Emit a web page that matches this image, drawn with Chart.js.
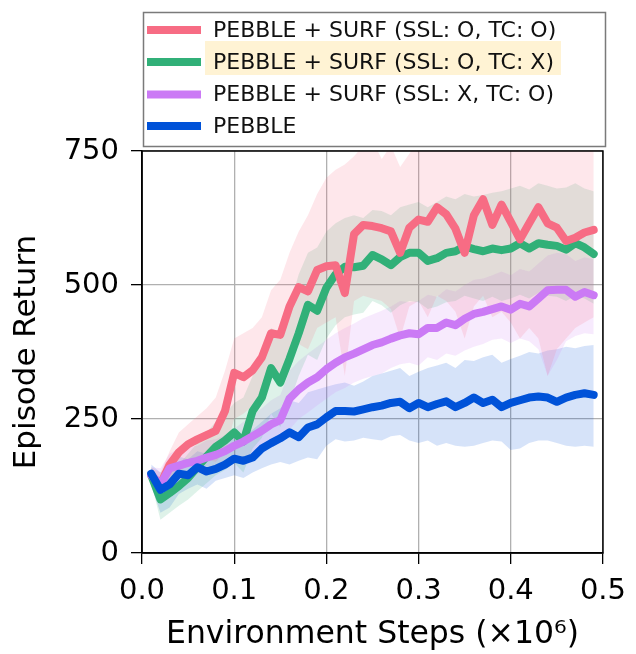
<!DOCTYPE html>
<html>
<head>
<meta charset="utf-8">
<script src="https://cdn.jsdelivr.net/npm/chart.js@4"></script>
<style>
  html, body { margin: 0; padding: 0; background: #fff; }
</style>
</head>
<body>
<canvas id="return-canvas" width="636" height="654"></canvas>
<script>
// environment steps (x10^6)
const steps = [
  0.01, 0.02, 0.03, 0.04, 0.05, 0.06, 0.07, 0.08, 0.09, 0.10,
  0.11, 0.12, 0.13, 0.14, 0.15, 0.16, 0.17, 0.18, 0.19, 0.20,
  0.21, 0.22, 0.23, 0.24, 0.25, 0.26, 0.27, 0.28, 0.29, 0.30,
  0.31, 0.32, 0.33, 0.34, 0.35, 0.36, 0.37, 0.38, 0.39, 0.40,
  0.41, 0.42, 0.43, 0.44, 0.45, 0.46, 0.47, 0.48, 0.49,
]

const legendLabels = [
  'PEBBLE + SURF (SSL: O, TC: O)',
  'PEBBLE + SURF (SSL: O, TC: X)',
  'PEBBLE + SURF (SSL: X, TC: O)',
  'PEBBLE',
]

// SSL: O, TC: O
const fullMean = [
  145, 128, 165, 188, 203, 212, 220, 228, 265, 336,
  328, 341, 365, 410, 407, 460, 496, 488, 528, 535,
  537, 485, 595, 612, 610, 606, 600, 560, 607, 622,
  618, 645, 632, 605, 560, 630, 660, 612, 650, 618,
  585, 615, 645, 615, 607, 582, 588, 598, 603,
]
const fullLow = [
  130, 105, 135, 150, 165, 170, 175, 170, 190, 250,
  260, 275, 290, 330, 320, 360, 390, 380, 420, 430,
  440, 330, 470, 480, 475, 470, 455, 400, 460, 470,
  440, 480, 470, 450, 400, 460, 480, 440, 450, 430,
  400, 420, 400, 330, 380, 400, 420, 430, 440,
]
const fullHigh = [
  160, 150, 190, 225, 240, 255, 270, 290, 340, 400,
  410, 420, 440, 490, 510, 560, 600, 630, 670, 700,
  715, 725, 740, 760, 770, 735, 760, 720, 745, 770,
  780, 790, 780, 770, 775, 785, 790, 780, 790, 785,
  780, 790, 800, 790, 785, 780, 790, 785, 780,
]

// SSL: O, TC: X
const noTcMean = [
  145, 100, 112, 125, 140, 160, 180, 198, 210, 225,
  208, 265, 290, 345, 318, 362, 410, 463, 452, 495,
  520, 534, 533, 536, 556, 548, 537, 552, 560, 560,
  545, 550, 560, 563, 572, 567, 563, 568, 565, 568,
  578, 568, 578, 575, 573, 566, 578, 570, 558,
]
const noTcLow = [
  130, 62, 75, 88, 100, 115, 130, 145, 155, 168,
  150, 195, 215, 260, 235, 280, 330, 370, 360, 400,
  425, 440, 445, 448, 470, 462, 448, 462, 470, 468,
  455, 460, 468, 470, 480, 475, 470, 478, 470, 475,
  482, 475, 485, 480, 478, 470, 480, 475, 465,
]
const noTcHigh = [
  160, 135, 150, 165, 185, 205, 225, 245, 260, 280,
  290, 330, 370, 420, 410, 460, 520, 560, 570, 600,
  615, 625, 630, 625, 640, 638, 630, 645, 650, 655,
  645, 655, 665, 660, 670, 665, 668, 672, 675, 680,
  685, 678, 690, 685, 680, 682, 690, 680, 675,
]

// SSL: X, TC: O
const noSslMean = [
  145, 128, 158, 163, 168, 172, 178, 183, 190, 200,
  208, 218, 228, 240, 248, 288, 305, 318, 328, 343,
  355, 365, 372, 380, 388, 393, 400, 406, 410, 408,
  420, 420, 430, 425, 437, 446, 450, 455, 460, 454,
  465, 460, 475, 490, 491, 491, 478, 487, 481,
]
const noSslLow = [
  130, 100, 125, 135, 140, 148, 150, 158, 162, 170,
  175, 185, 190, 198, 205, 230, 250, 262, 275, 288,
  300, 308, 318, 325, 330, 335, 345, 352, 355, 350,
  365, 360, 372, 368, 378, 385, 390, 398, 400, 392,
  400, 395, 380, 330, 360, 395, 405, 410, 408,
]
const noSslHigh = [
  160, 158, 185, 195, 198, 200, 210, 212, 220, 232,
  245, 258, 270, 285, 295, 340, 358, 372, 385, 398,
  410, 420, 428, 438, 445, 452, 460, 470, 468, 470,
  482, 478, 492, 488, 500, 510, 512, 518, 525, 518,
  530, 525, 540, 555, 560, 558, 545, 552, 548,
]

// PEBBLE baseline
const pebbleMean = [
  148, 118, 128, 148, 145, 160, 152, 157, 165, 176,
  172, 178, 195, 205, 214, 225, 216, 234, 240, 253,
  265, 265, 264, 268, 272, 275, 280, 282, 270, 280,
  272, 278, 283, 272, 280, 290, 280, 286, 272, 280,
  285, 290, 292, 290, 282, 290, 295, 298, 295,
]
const pebbleLow = [
  125, 75, 85, 110, 120, 128, 120, 135, 140, 145,
  140, 150, 158, 165, 170, 165, 172, 178, 175, 200,
  212, 208, 210, 215, 212, 210, 218, 220, 210, 205,
  210, 200, 205, 200, 198, 200, 205, 210, 208, 192,
  195, 205, 210, 210, 205, 200, 198, 200, 198,
]
const pebbleHigh = [
  165, 150, 165, 180, 175, 190, 185, 195, 200, 215,
  220, 230, 245, 260, 270, 285, 280, 300, 305, 310,
  315, 318, 312, 320, 330, 335, 340, 345, 330, 338,
  345, 350, 355, 345, 360, 358, 365, 370, 355, 362,
  368, 375, 372, 378, 380, 385, 382, 386, 388,
]

const yTicks = [0, 250, 500, 750]
const xTicks = [0, 0.1, 0.2, 0.3, 0.4, 0.5]

const FONT = 'DejaVu Sans'
Chart.defaults.font.family = FONT
Chart.defaults.color = '#000'

const series = [
  { label: legendLabels[0], rgb: '247,108,132', mean: fullMean, low: fullLow, high: fullHigh, order: 3 },
  { label: legendLabels[1], rgb: '49,176,120', mean: noTcMean, low: noTcLow, high: noTcHigh, order: 4 },
  { label: legendLabels[2], rgb: '203,122,245', mean: noSslMean, low: noSslLow, high: noSslHigh, order: 2 },
  { label: legendLabels[3], rgb: '0,82,216', mean: pebbleMean, low: pebbleLow, high: pebbleHigh, order: 1 },
]

function toPoints(arr) {
  return arr.map((v, i) => ({ x: steps[i], y: v }))
}

const datasets = []
// shaded bands first (low edge, then high edge filled down to it)
series.forEach((s) => {
  datasets.push({
    label: s.label + ' low',
    data: toPoints(s.low),
    borderWidth: 0,
    pointRadius: 0,
    fill: false,
    order: 20,
  })
  datasets.push({
    label: s.label + ' high',
    data: toPoints(s.high),
    borderWidth: 0,
    pointRadius: 0,
    fill: '-1',
    backgroundColor: `rgba(${s.rgb},0.16)`,
    order: 20,
  })
})
// mean curves
series.forEach((s) => {
  datasets.push({
    label: s.label,
    data: toPoints(s.mean),
    borderColor: `rgb(${s.rgb})`,
    borderWidth: 8,
    borderJoinStyle: 'round',
    borderCapStyle: 'round',
    pointRadius: 0,
    fill: false,
    tension: 0,
    order: s.order,
  })
})

// black box around the plot area
const frame = {
  id: 'frame',
  afterDatasetsDraw(chart) {
    const { ctx, chartArea: a } = chart
    ctx.save()
    ctx.strokeStyle = '#000'
    ctx.lineWidth = 1.5
    ctx.strokeRect(a.left, a.top, a.right - a.left, a.bottom - a.top)
    ctx.restore()
  },
}

// legend box above the axes
const legendBox = {
  id: 'legendBox',
  afterDraw(chart) {
    const ctx = chart.ctx
    ctx.save()
    ctx.fillStyle = '#fff'
    ctx.strokeStyle = '#7a7a7a'
    ctx.lineWidth = 1.5
    ctx.beginPath()
    ctx.rect(143.5, 12.5, 462, 134)
    ctx.fill()
    ctx.stroke()

    // marker behind the second entry
    ctx.fillStyle = '#fff3d4'
    ctx.fillRect(205, 41, 356, 34)

    const rows = [30, 62, 94.5, 126]
    ctx.font = `22px "${FONT}"`
    ctx.textBaseline = 'middle'
    ctx.textAlign = 'left'
    series.forEach((s, i) => {
      ctx.strokeStyle = `rgb(${s.rgb})`
      ctx.lineWidth = 8
      ctx.lineCap = 'butt'
      ctx.beginPath()
      ctx.moveTo(147, rows[i])
      ctx.lineTo(201, rows[i])
      ctx.stroke()
      ctx.fillStyle = '#111'
      ctx.fillText(s.label, 213, rows[i] + 1)
    })
    ctx.restore()
  },
}

new Chart(document.getElementById('return-canvas'), {
  type: 'line',
  data: { datasets: datasets },
  plugins: [frame, legendBox],
  options: {
    responsive: false,
    animation: false,
    layout: { padding: { top: 151, right: 29, left: 0, bottom: 0 } },
    plugins: {
      legend: { display: false },
      tooltip: { enabled: false },
    },
    scales: {
      x: {
        type: 'linear',
        min: 0,
        max: 0.5,
        afterFit: (s) => { s.height = 101 },
        afterBuildTicks: (s) => { s.ticks = xTicks.map((v) => ({ value: v })) },
        grid: { color: '#b0b0b0', lineWidth: 1.3, tickColor: '#000', tickLength: 11, tickWidth: 1.3 },
        border: { color: '#000', width: 1.5 },
        ticks: {
          color: '#000',
          font: { size: 29 },
          padding: 10,
          maxRotation: 0,
          callback: (v) => Number(v).toFixed(1),
        },
        title: {
          display: true,
          text: 'Environment Steps (×10⁶)',
          color: '#000',
          font: { size: 31.5, lineHeight: 1 },
          padding: { top: 0, bottom: 3 },
        },
      },
      y: {
        type: 'linear',
        min: 0,
        max: 750,
        afterFit: (s) => { s.width = 142 },
        afterBuildTicks: (s) => { s.ticks = yTicks.map((v) => ({ value: v })) },
        grid: { color: '#b0b0b0', lineWidth: 1.3, tickColor: '#000', tickLength: 11, tickWidth: 1.3 },
        border: { color: '#000', width: 1.5 },
        ticks: {
          color: '#000',
          font: { size: 29 },
          padding: 12,
        },
        title: {
          display: true,
          text: 'Episode Return',
          color: '#000',
          font: { size: 31, lineHeight: 1 },
          padding: { top: 11, bottom: 0 },
        },
      },
    },
  },
})
</script>
</body>
</html>
